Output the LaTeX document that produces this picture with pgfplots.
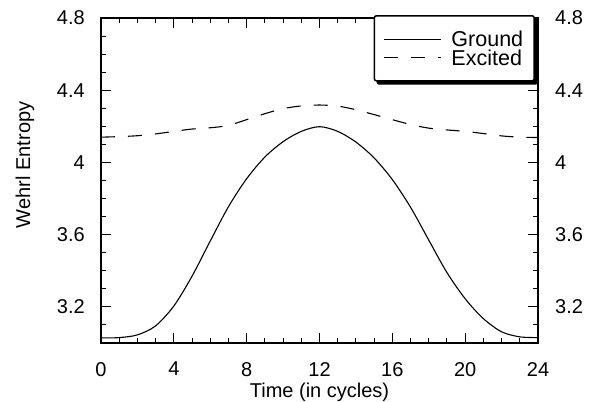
\documentclass[border=0pt]{standalone}
\usepackage{fontspec}
\setmainfont{Liberation Sans}
\usepackage{pgfplots}
\usepackage{pgfplotstable}
\pgfplotsset{compat=1.18}
\usetikzlibrary{backgrounds}

% Wehrl entropy vs time, ground and excited state
\pgfplotstableread{
t    S
0    3.028
1    3.030
2    3.045
3    3.095
4    3.205
5    3.370
6    3.565
7    3.755
8    3.910
9    4.030
10   4.115
11   4.172
12   4.198
13   4.172
14   4.113
15   4.025
16   3.905
17   3.752
18   3.570
19   3.390
20   3.245
21   3.135
22   3.062
23   3.034
24   3.030
}\ground

\pgfplotstableread{
t    S
0    4.140
1    4.143
2    4.148
3    4.158
4    4.172
5    4.185
6    4.192
7    4.205
8    4.237
9    4.270
10   4.298
11   4.313
12   4.318
13   4.312
14   4.292
15   4.265
16   4.237
17   4.210
18   4.190
19   4.180
20   4.172
21   4.160
22   4.147
23   4.140
24   4.138
}\excited

\begin{document}
\fontsize{20}{24}\selectfont
\begin{tikzpicture}
\path (0,0) rectangle (599pt,400pt);
\begin{axis}[
  at={(101pt,57pt)}, anchor=south west,
  scale only axis, width=437pt, height=325pt,
  xmin=0, xmax=24, ymin=3.0, ymax=4.8,
  xtick={0,4,...,24},
  minor xtick={1,2,3,5,6,7,9,10,11,13,14,15,17,18,19,21,22,23},
  ytick={3.2,3.6,4,4.4,4.8},
  minor ytick={3.1,3.3,3.4,3.5,3.7,3.8,3.9,4.1,4.2,4.3,4.5,4.6,4.7},
  tick align=inside,
  major tick length=10pt, minor tick length=5pt,
  every tick/.style={black, line width=1pt},
  axis line style={line width=1.3pt},
  /pgf/number format/assume math mode=true,
  every tick label/.append style={inner sep=0pt},
  every x tick label/.append style={yshift=-19pt},
  every y tick label/.append style={xshift=-16pt},
  xlabel={Time (in cycles)},
  xlabel style={at={(axis description cs:0.5,0)}, anchor=north, yshift=-40pt, inner sep=0pt},
  ylabel={Wehrl Entropy},
  ylabel style={at={(axis description cs:-0.174,0.548)}, anchor=center},
  legend cell align=left,
  legend image code/.code={\draw[#1, line width=1.1pt] (0pt,0pt) -- (57pt,0pt); \path (65pt,0pt);},
  legend style={name=leg, at={(0.993,1.009)}, anchor=north east,
    draw=black, line width=1.5pt, rounded corners=2pt, fill=white,
    inner xsep=9pt, inner ysep=15pt,
    font=\fontsize{21.5}{26}\selectfont,
    nodes={inner xsep=2pt, inner ysep=0.25pt, text height=15.5pt, text depth=0.5pt},
    row sep=2pt},
]
\addplot[black, line width=1.1pt, smooth] table[x=t, y=S] {\ground};
\addlegendentry{Ground}
\addplot[black, line width=1.1pt, smooth, dash pattern=on 14pt off 13pt] table[x=t, y=S] {\excited};
\addlegendentry{Excited}
\end{axis}
\begin{axis}[
  at={(101pt,57pt)}, anchor=south west,
  scale only axis, width=437pt, height=325pt,
  xmin=0, xmax=24, ymin=3.0, ymax=4.8,
  hide x axis, axis y line*=right,
  y axis line style={draw=none},
  ytick={3.2,3.6,4,4.4,4.8}, minor ytick={},
  major tick length=0pt,
  /pgf/number format/assume math mode=true,
  every tick label/.append style={inner sep=0pt},
  every y tick label/.append style={xshift=17pt},
]
\end{axis}
\begin{pgfonlayer}{background}
\fill[black, rounded corners=2pt] ([xshift=3pt,yshift=-3pt]leg.south west) rectangle ([xshift=3pt,yshift=-3pt]leg.north east);
\end{pgfonlayer}
\end{tikzpicture}
\end{document}
